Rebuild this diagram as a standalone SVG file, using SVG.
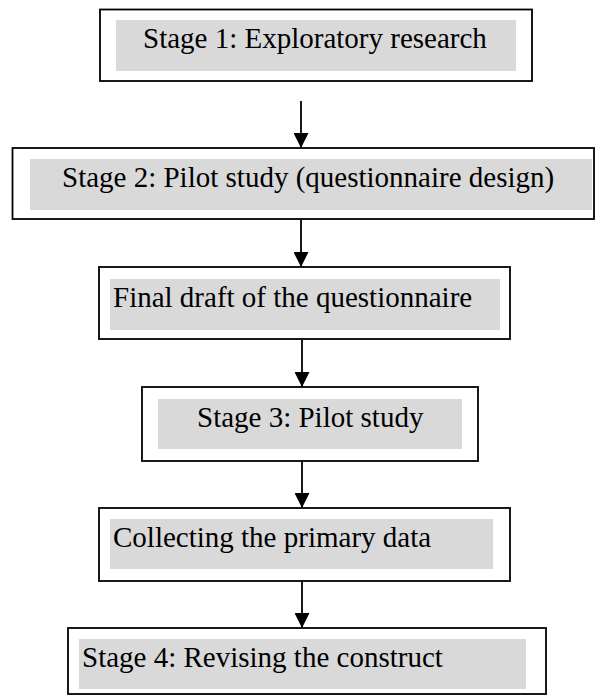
<svg xmlns="http://www.w3.org/2000/svg" width="595" height="696" viewBox="0 0 595 696">
  <style>
    .frame { fill: #ffffff; stroke: #000000; stroke-width: 1.8; }
    .shade { fill: #d9d9d9; stroke: none; }
    .label { font-family: "Liberation Serif", "Times New Roman", serif; font-size: 29px; fill: #000000; }
    .link { stroke: #000000; stroke-width: 1.8; fill: none; marker-end: url(#head); }
  </style>
  <defs>
    <marker id="head" markerWidth="15" markerHeight="15" refX="15" refY="7.5" orient="auto" markerUnits="userSpaceOnUse">
      <path d="M0,0 L15,7.5 L0,15 Z" fill="#000000"/>
    </marker>
  </defs>
  <rect width="595" height="696" fill="#ffffff"/>

  <g id="stage1">
    <rect class="frame" x="100" y="9.5" width="432" height="71.5"/>
    <rect class="shade" x="116" y="20" width="400" height="51"/>
    <text class="label" x="143" y="48">Stage 1: Exploratory research</text>
  </g>

  <g id="stage2">
    <rect class="frame" x="12.5" y="148" width="581.5" height="71"/>
    <rect class="shade" x="30" y="159" width="562" height="51"/>
    <text class="label" x="62" y="187">Stage 2: Pilot study (questionnaire design)</text>
  </g>

  <g id="final-draft">
    <rect class="frame" x="99" y="267" width="411" height="72"/>
    <rect class="shade" x="110" y="279" width="390" height="51"/>
    <text class="label" x="113" y="307">Final draft of the questionnaire</text>
  </g>

  <g id="stage3">
    <rect class="frame" x="142" y="387" width="336" height="74"/>
    <rect class="shade" x="158" y="399" width="304" height="50"/>
    <text class="label" x="197" y="427">Stage 3: Pilot study</text>
  </g>

  <g id="collecting">
    <rect class="frame" x="99" y="508" width="411" height="73"/>
    <rect class="shade" x="110" y="519" width="383" height="50"/>
    <text class="label" x="113" y="547">Collecting the primary data</text>
  </g>

  <g id="stage4">
    <rect class="frame" x="68" y="628" width="478" height="66"/>
    <rect class="shade" x="79" y="639" width="447" height="50"/>
    <text class="label" x="82" y="667">Stage 4: Revising the construct</text>
  </g>

  <g id="connectors">
    <line class="link" x1="301" y1="101" x2="301" y2="148"/>
    <line class="link" x1="301" y1="220" x2="301" y2="267"/>
    <line class="link" x1="302" y1="340" x2="302" y2="387"/>
    <line class="link" x1="302" y1="461" x2="302" y2="508"/>
    <line class="link" x1="302" y1="581" x2="302" y2="628"/>
  </g>
</svg>
